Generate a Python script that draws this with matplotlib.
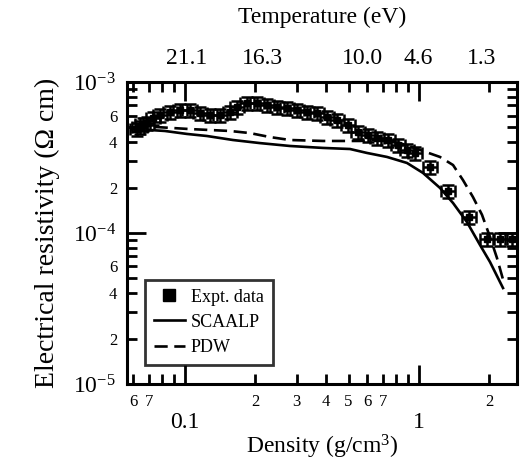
import matplotlib
matplotlib.use("Agg")
import matplotlib.pyplot as plt
import matplotlib.transforms as mtransforms
import numpy as np

plt.rcParams['font.family'] = ['Liberation Serif', 'DejaVu Serif']
plt.rcParams['mathtext.fontset'] = 'custom'
plt.rcParams['mathtext.rm'] = 'Liberation Serif'
plt.rcParams['mathtext.it'] = 'Liberation Serif:italic'

# experimental data (density g/cm3, resistivity Ohm cm)
expt_rho = [0.0624, 0.0642, 0.0661, 0.0688, 0.0730, 0.0782, 0.0863, 0.0952, 0.1050,
            0.1159, 0.1279, 0.1411, 0.1557, 0.1668, 0.1841, 0.2031, 0.2241, 0.2474,
            0.2729, 0.3011, 0.3322, 0.3666, 0.4045, 0.4463, 0.4974, 0.5488, 0.6056,
            0.6615, 0.7372, 0.8134, 0.8887, 0.9614, 1.114, 1.330, 1.636, 1.953,
            2.220, 2.497]
expt_res = [4.88e-4, 5.03e-4, 5.27e-4, 5.35e-4, 5.78e-4, 6.05e-4, 6.33e-4, 6.53e-4,
            6.53e-4, 6.23e-4, 6.05e-4, 6.05e-4, 6.33e-4, 6.83e-4, 7.26e-4, 7.26e-4,
            7.04e-4, 6.83e-4, 6.73e-4, 6.53e-4, 6.33e-4, 6.23e-4, 5.86e-4, 5.60e-4,
            5.19e-4, 4.67e-4, 4.46e-4, 4.26e-4, 4.13e-4, 3.83e-4, 3.55e-4, 3.39e-4,
            2.74e-4, 1.90e-4, 1.28e-4, 9.12e-5, 9.12e-5, 9.12e-5]
xerr_rel = 0.07
yerr_rel = 0.10

scaalp_rho = [0.0600, 0.0709, 0.0821, 0.1020, 0.1242, 0.1603, 0.2092, 0.2810, 0.3889,
              0.5073, 0.5995, 0.7298, 0.8887, 1.040, 1.229, 1.398, 1.604, 1.823,
              2.011, 2.286]
scaalp_res = [4.67e-4, 4.81e-4, 4.74e-4, 4.53e-4, 4.39e-4, 4.13e-4, 3.94e-4, 3.77e-4,
              3.66e-4, 3.60e-4, 3.39e-4, 3.19e-4, 2.91e-4, 2.50e-4, 1.99e-4, 1.58e-4,
              1.18e-4, 8.33e-5, 6.43e-5, 4.32e-5]

pdw_rho = [0.0611, 0.0759, 0.1050, 0.1557, 0.1896, 0.2308, 0.2810, 0.3889, 0.5597,
           0.6615, 0.8293, 1.010, 1.229, 1.398, 1.542, 1.701, 1.859, 2.011, 2.154, 2.308]
pdw_res = [4.96e-4, 5.03e-4, 4.88e-4, 4.74e-4, 4.59e-4, 4.32e-4, 4.13e-4, 4.07e-4,
           4.07e-4, 4.13e-4, 3.94e-4, 3.55e-4, 3.19e-4, 2.82e-4, 2.24e-4, 1.73e-4,
           1.32e-4, 9.41e-5, 6.83e-5, 4.67e-5]

# temperature labels on the top axis and where they sit in density
temp_labels = ["21.1", "16.3", "10.0", "4.6", "1.3"]
temp_pos = [0.102, 0.215, 0.575, 0.99, 1.86]

fig = plt.figure(figsize=(5.2, 4.66), dpi=100)
ax = fig.add_axes([0.244, 0.176, 0.750, 0.648])

ex = np.array(expt_rho)
ey = np.array(expt_res)
ax.errorbar(ex, ey, xerr=ex * xerr_rel, yerr=ey * yerr_rel, fmt='s', color='k',
            ms=5, elinewidth=1.8, capsize=4, capthick=1.8)
ax.plot(scaalp_rho, scaalp_res, '-', color='k', lw=1.9, label='SCAALP')
ax.plot(pdw_rho, pdw_res, '--', color='k', lw=1.9, dashes=(5, 2.5), label='PDW')
ax.plot([], [], 's', color='k', ms=9, label='Expt. data')

ax.set_xscale('log')
ax.set_yscale('log')
ax.set_xlim(0.0565, 2.62)
ax.set_ylim(1e-5, 1e-3)

# x ticks
ax.set_xticks([0.1, 1], labels=['0.1', '1'])
xminor = [0.06, 0.07, 0.08, 0.09, 0.2, 0.3, 0.4, 0.5, 0.6, 0.7, 0.8, 0.9, 2]
xminor_lab = ['6', '7', '', '', '2', '3', '4', '5', '6', '7', '', '', '2']
ax.set_xticks(xminor, labels=xminor_lab, minor=True)

# y ticks
ax.set_yticks([1e-5, 1e-4, 1e-3], labels=[r'$10^{-5}$', r'$10^{-4}$', r'$10^{-3}$'])
yminor = []
yminor_lab = []
for dec in [1e-5, 1e-4]:
    for m in range(2, 10):
        yminor.append(m * dec)
        yminor_lab.append(str(m) if m in (2, 4, 6) else '')
ax.set_yticks(yminor, labels=yminor_lab, minor=True)

ax.tick_params(which='both', direction='in', top=True, right=True, width=2)
ax.tick_params(which='major', length=14)
ax.tick_params(which='minor', length=7)
ax.tick_params(axis='x', which='major', labelsize=17, pad=20)
ax.tick_params(axis='x', which='minor', labelsize=12, pad=7)
ax.tick_params(axis='y', which='major', labelsize=17, pad=8)
ax.tick_params(axis='y', which='minor', labelsize=12, pad=7)
for s in ax.spines.values():
    s.set_linewidth(2.2)

ax.set_xlabel('Density (g/cm$^{3}$)', fontsize=17, labelpad=0)
ax.set_ylabel('Electrical resistivity (\u03a9 cm)', fontsize=20, labelpad=9)

trans = mtransforms.blended_transform_factory(ax.transData, ax.transAxes)
for lab, xp in zip(temp_labels, temp_pos):
    ax.text(xp, 1.078, lab, transform=trans, ha='center', va='center', fontsize=17)
ax.text(0.5, 1.215, 'Temperature (eV)', transform=ax.transAxes, ha='center',
        va='center', fontsize=17)

h, l = ax.get_legend_handles_labels()
order = [2, 0, 1]
leg = ax.legend([h[i] for i in order], [l[i] for i in order], loc='lower left',
                bbox_to_anchor=(0.046, 0.063), fontsize=13, frameon=True,
                fancybox=False, edgecolor='k', handlelength=1.7, handletextpad=0.35,
                borderpad=0.5, labelspacing=0.45, borderaxespad=0)
leg.get_frame().set_linewidth(2)

fig.savefig('out.png', dpi=100)
